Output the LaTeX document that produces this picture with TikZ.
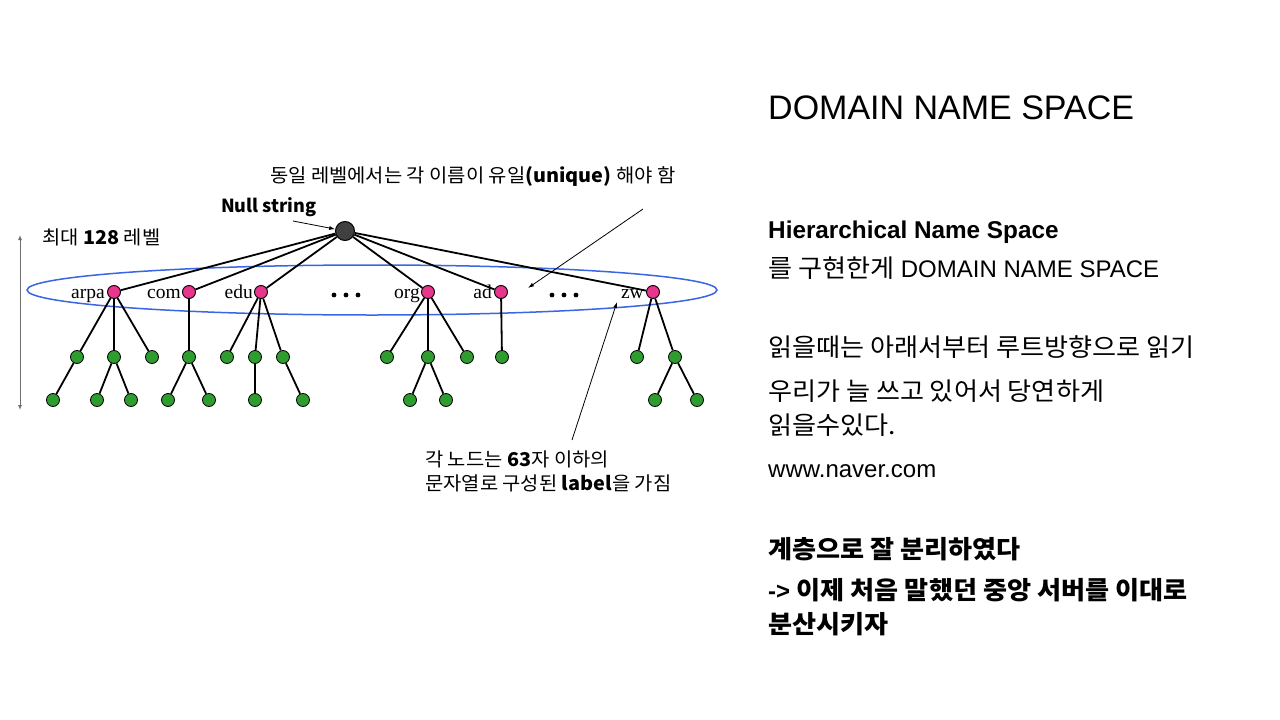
\documentclass[tikz,border=0pt]{standalone}
\usepackage{fontspec}
\setmainfont{Liberation Sans}
\newfontfamily\krfont[FakeStretch=1.045]{Noto Sans CJK KR}
\newfontfamily\notelatin{Noto Sans CJK KR}
\newfontfamily\treefont{Liberation Serif}
\usetikzlibrary{arrows.meta}

\definecolor{rootgray}{RGB}{64,64,64}
\definecolor{pinkfill}{RGB}{232,54,143}
\definecolor{greenfill}{RGB}{46,156,46}
\definecolor{ringblue}{RGB}{58,102,228}
\definecolor{scalegray}{RGB}{110,110,110}

\begin{document}
\begin{tikzpicture}[x=1pt,y=-1pt,
  rootnode/.style={circle, draw=black, line width=1pt, fill=rootgray, minimum size=19pt, inner sep=0pt},
  topnode/.style={circle, draw=black, line width=0.9pt, fill=pinkfill, minimum size=13pt, inner sep=0pt},
  leaf/.style={circle, draw=black, line width=0.8pt, fill=greenfill, minimum size=13pt, inner sep=0pt},
  branch/.style={line width=1.8pt, black},
  tld/.style={anchor=base east, inner sep=0pt, font=\treefont\fontsize{19.5}{22}\selectfont},
  note/.style={anchor=base west, inner sep=0pt, font=\krfont\fontsize{19}{22}\selectfont},
  pointer/.style={line width=0.8pt, black, -{Latex[length=6pt,width=4pt]}},
  body/.style={anchor=base west, inner sep=0pt, font=\fontsize{24}{28}\selectfont},
  krbody/.style={anchor=base west, inner sep=0pt, font=\krfont\fontsize{25}{28}\selectfont}
]
\useasboundingbox (0,0) rectangle (1280,720);
\fill[white] (0,0) rectangle (1280,720);

% level ring around the top-level domains
\draw[ringblue, line width=1.5pt] (372,290) ellipse [x radius=345, y radius=25];

% root and top-level domains
\node[rootnode] (r) at (345,231) {};
\node[topnode] (arpa) at (114,292) {};
\node[topnode] (com)  at (189,292) {};
\node[topnode] (edu)  at (261,292) {};
\node[topnode] (org)  at (428,292) {};
\node[topnode] (ad)   at (501,292) {};
\node[topnode] (zw)   at (653,292) {};

% second level
\foreach \n/\x in {b1/77,b2/114,b3/152,b4/189,b5/227,b6/255,b7/283,b8/387,b9/428,b10/467,b11/502,b12/637,b13/675}
  \node[leaf] (\n) at (\x,357) {};
% third level
\foreach \n/\x in {c1/53,c2/97,c3/131,c4/168,c5/209,c6/255,c7/303,c8/410,c9/446,c10/655,c11/697}
  \node[leaf] (\n) at (\x,400) {};

% tree branches
\foreach \t in {arpa,com,edu,org,ad,zw} \draw[branch] (r) -- (\t);
\foreach \a/\b in {arpa/b1,arpa/b2,arpa/b3,com/b4,edu/b5,edu/b6,edu/b7,org/b8,org/b9,org/b10,ad/b11,zw/b12,zw/b13,
                   b1/c1,b2/c2,b2/c3,b4/c4,b4/c5,b6/c6,b7/c7,b9/c8,b9/c9,b13/c10,b13/c11}
  \draw[branch] (\a) -- (\b);

% labels of the top-level domains
\node[tld] at (105,298) {arpa};
\node[tld] at (181,298) {com};
\node[tld] at (253,298) {edu};
\node[tld] at (420,298) {org};
\node[tld] at (492,298) {ad};
\node[tld] at (644,298) {zw};

% ellipsis dots between domains
\foreach \x in {334,346,358,552,564,576} \fill[black] (\x,295) circle (2.4);

% depth scale
\coordinate (scaletop) at (20,235);
\coordinate (scalebot) at (20,410);
\draw[scalegray, line width=1pt, {Latex[length=5pt,width=4pt]}-{Latex[length=5pt,width=4pt]}] (scaletop) -- (scalebot);
\node[note] (depth) at (42,244) {최대 {\bfseries 128} 레벨};

% annotations
\node[note, font=\notelatin\fontsize{18}{22}\selectfont] (nullname) at (221,212) {\bfseries Null string};
\coordinate (nulltail) at (293,221);
\draw[pointer] (nulltail) -- (r);

\node[note] (unique) at (270,182) {동일 레벨에서는 각 이름이 유일{\bfseries (unique)} 해야 함};
\coordinate (uniquetail) at (643,209);
\coordinate (uniquehead) at (528,288);
\draw[pointer] (uniquetail) -- (uniquehead);

\node[note] (labelnote1) at (425,466) {각 노드는 {\bfseries 63}자 이하의};
\node[note] (labelnote2) at (425,490) {문자열로 구성된 {\bfseries label}을 가짐};
\coordinate (labeltail) at (572,440);
\coordinate (labelhead) at (617,302);
\draw[pointer] (labeltail) -- (labelhead);

% explanatory text
\node[body, font=\fontsize{34}{40}\selectfont] (title) at (768,119) {DOMAIN NAME SPACE};
\node[body, font=\fontsize{24.3}{28}\selectfont] (h1) at (768,238) {\bfseries Hierarchical Name Space};
\node[body] (h2) at (768,277) {{\krfont\fontsize{25}{28}\selectfont 를 구현한게} DOMAIN NAME SPACE};
\node[krbody] (r1) at (768,356) {읽을때는 아래서부터 루트방향으로 읽기};
\node[krbody] (r2) at (768,400) {우리가 늘 쓰고 있어서 당연하게};
\node[krbody] (r3) at (768,434) {읽을수있다.};
\node[body] (r4) at (768,477) {www.naver.com};
\node[krbody] (s1) at (768,558) {\bfseries 계층으로 잘 분리하였다};
\node[body] (s2) at (768,599) {\bfseries -> {\krfont\fontsize{25}{28}\selectfont 이제 처음 말했던 중앙 서버를 이대로}};
\node[krbody] (s3) at (768,633) {\bfseries 분산시키자};
\end{tikzpicture}
\end{document}
